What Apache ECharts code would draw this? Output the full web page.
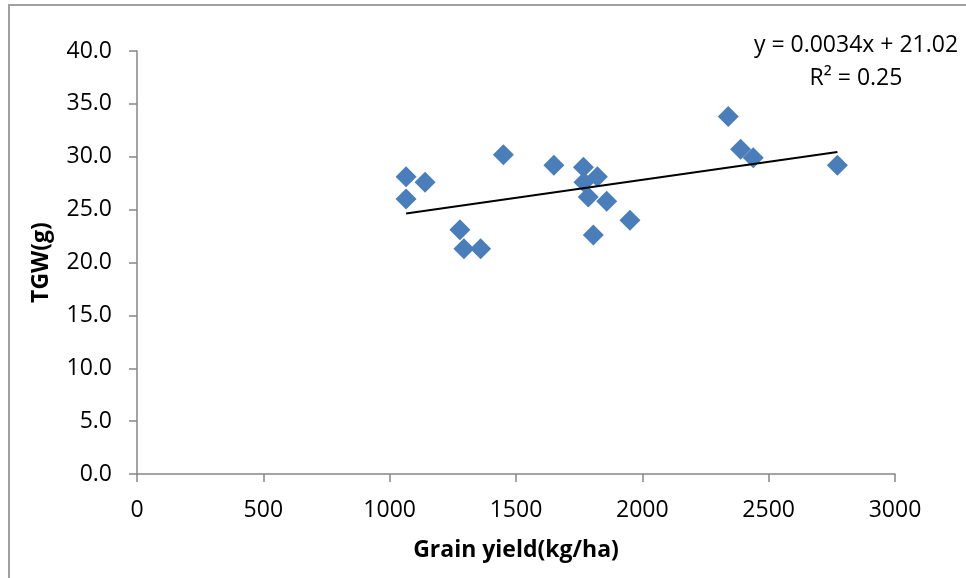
<!DOCTYPE html>
<html>
<head>
<meta charset="utf-8">
<script src="https://cdn.jsdelivr.net/npm/echarts@6/dist/echarts.min.js"></script>
<style>
  html, body { margin: 0; padding: 0; background: #fff; }
  #chart { width: 966px; height: 578px; }
</style>
</head>
<body>
<div id="chart"></div>
<script>
// Grain yield (kg/ha) against thousand grain weight (g)
const grainYield = [1065, 1065, 1140, 1278, 1294, 1360, 1450, 1650, 1767, 1769, 1822, 1786, 1859, 1806, 1951, 2340, 2389, 2439, 2772];
const tgw = [28.1, 26.0, 27.6, 23.1, 21.3, 21.3, 30.2, 29.2, 29.0, 27.6, 28.1, 26.2, 25.8, 22.6, 24.0, 33.8, 30.7, 29.9, 29.2];

// Linear trend line coefficients
const slope = [0.0034];
const intercept = [21.02];
const rSquared = [0.25];

const xTicks = [0, 500, 1000, 1500, 2000, 2500, 3000];
const yTicks = [0, 5, 10, 15, 20, 25, 30, 35, 40];

const points = grainYield.map((x, i) => [x, tgw[i]]);
const xMin = Math.min(...grainYield);
const xMax = Math.max(...grainYield);
const trend = [xMin, xMax].map(x => [x, slope[0] * x + intercept[0]]);

const FONT = '"Open Sans", sans-serif';
const AXIS_COLOR = '#868686';

const chart = echarts.init(document.getElementById('chart'), null, { renderer: 'canvas' });
chart.setOption({
  animation: false,
  backgroundColor: '#fff',
  grid: { left: 137, right: 71, top: 51, bottom: 104 },
  xAxis: {
    type: 'value',
    min: xTicks[0],
    max: xTicks[xTicks.length - 1],
    interval: 500,
    name: 'Grain yield(kg/ha)',
    nameLocation: 'middle',
    nameGap: 65,
    nameTextStyle: { fontFamily: FONT, fontWeight: 'bold', fontSize: 23, color: '#000' },
    axisLine: { lineStyle: { color: AXIS_COLOR, width: 1.5 } },
    axisTick: { show: true, length: 8, lineStyle: { color: AXIS_COLOR, width: 1.5 } },
    axisLabel: {
      fontFamily: FONT, fontSize: 23, color: '#000', margin: 25,
      formatter: v => String(v)
    },
    splitLine: { show: false }
  },
  yAxis: {
    type: 'value',
    min: yTicks[0],
    max: yTicks[yTicks.length - 1],
    interval: 5,
    name: 'TGW(g)',
    nameLocation: 'middle',
    nameGap: 84,
    nameRotate: 90,
    nameTextStyle: { fontFamily: FONT, fontWeight: 'bold', fontSize: 23, color: '#000' },
    axisLine: { show: true, lineStyle: { color: AXIS_COLOR, width: 1.5 } },
    axisTick: { show: true, length: 8, lineStyle: { color: AXIS_COLOR, width: 1.5 } },
    axisLabel: {
      fontFamily: FONT, fontSize: 23, color: '#000', margin: 25,
      formatter: v => v.toFixed(1)
    },
    splitLine: { show: false }
  },
  graphic: [
    {
      type: 'rect',
      shape: { x: 9, y: 5, width: 1200, height: 1200 },
      style: { fill: 'none', stroke: '#a0a0a0', lineWidth: 2 },
      silent: true
    },
    {
      type: 'text',
      x: 856, y: 45,
      style: {
        text: 'y = ' + slope[0].toFixed(4) + 'x + ' + intercept[0].toFixed(2),
        font: '23px ' + FONT, fill: '#000',
        textAlign: 'center', textVerticalAlign: 'middle'
      }
    },
    {
      type: 'text',
      x: 856, y: 78,
      style: {
        text: 'R² = ' + rSquared[0].toFixed(2),
        font: '23px ' + FONT, fill: '#000',
        textAlign: 'center', textVerticalAlign: 'middle'
      }
    }
  ],
  series: [
    {
      type: 'line',
      data: trend,
      symbol: 'none',
      lineStyle: { color: '#000', width: 2 },
      z: 3
    },
    {
      type: 'scatter',
      data: points,
      symbol: 'diamond',
      symbolSize: 21,
      itemStyle: { color: '#4A7EBB', opacity: 1 },
      z: 2
    }
  ]
});
</script>
</body>
</html>
